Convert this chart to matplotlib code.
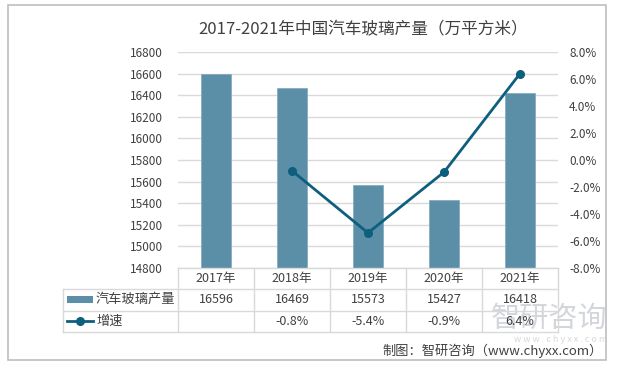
import matplotlib
matplotlib.use("Agg")
import matplotlib.pyplot as plt
from matplotlib.patches import Rectangle
from matplotlib.lines import Line2D
import numpy as np

plt.rcParams['font.family'] = ['Noto Sans CJK SC', 'DejaVu Sans']

years = ["2017年", "2018年", "2019年", "2020年", "2021年"]
output = [16596, 16469, 15573, 15427, 16418]
growth = [None, -0.8, -5.4, -0.9, 6.4]
growth_labels = ["", "-0.8%", "-5.4%", "-0.9%", "6.4%"]
left_ticks = list(range(14800, 16801, 200))
right_ticks = [-8, -6, -4, -2, 0, 2, 4, 6, 8]
series_names = ["汽车玻璃产量", "增速"]
title = "2017-2021年中国汽车玻璃产量（万平方米）"
source = "制图：智研咨询（www.chyxx.com）"

BAR_C = "#5b8fa7"
LINE_C = "#0e5f7e"
GRID_C = "#d9d9d9"
TXT_C = "#404040"

W, H = 622, 366
fig = plt.figure(figsize=(W / 100, H / 100), dpi=100)

def fx(px):
    return px / W

def fy(py):
    return 1 - py / H

ax_l, ax_r, ax_t, ax_b = 178, 558, 52, 268
ax = fig.add_axes([fx(ax_l), fy(ax_b), fx(ax_r - ax_l), (ax_b - ax_t) / H])
x = np.arange(len(years))
ax.bar(x, output, width=0.4, color=BAR_C, edgecolor="#7fa9bd", linewidth=0.5, zorder=3)
ax.set_xlim(-0.5, len(years) - 0.5)
ax.set_ylim(14800, 16800)
ax.set_yticks(left_ticks)
ax.set_yticklabels([str(t) for t in left_ticks])
ax.yaxis.grid(True, color=GRID_C, linewidth=1, zorder=0)
ax.set_xticks([])
for s in ax.spines.values():
    s.set_visible(False)
ax.tick_params(axis='y', length=0, pad=11, labelsize=8.5, labelcolor=TXT_C)

ax2 = ax.twinx()
gx = [xi for xi, g in zip(x, growth) if g is not None]
gy = [g for g in growth if g is not None]
ax2.plot(gx, gy, color=LINE_C, linewidth=2, marker='o', markersize=5.5, zorder=4)
ax2.set_ylim(-8, 8)
ax2.set_yticks(right_ticks)
ax2.set_yticklabels([f"{t:.1f}%" for t in right_ticks])
for s in ax2.spines.values():
    s.set_visible(False)
ax2.tick_params(axis='y', length=0, pad=8, labelsize=8.5, labelcolor=TXT_C)

# outer border
fig.add_artist(Rectangle((fx(8), fy(360)), fx(598), (360 - 5) / H, transform=fig.transFigure,
                         fill=False, edgecolor="#bfbfbf", linewidth=1.2))

# title
fig.text(fx(363), fy(30), title, ha='center', va='center', fontsize=12, color=TXT_C)

# watermark (drawn beneath table text)
fig.text(fx(607), fy(319), "智研咨询", ha='right', va='center', fontsize=21, color="#d3d6db",
         zorder=0)
fig.text(fx(607), fy(339), "w w w . c h y x x . c o m", ha='right', va='center', fontsize=6.5,
         color="#d5d8dd", zorder=0)

# data table
tbl_l = 63
rows = [268, 288.5, 310.5, 332]
col_w = (ax_r - ax_l) / len(years)
cols = [ax_l + i * col_w for i in range(len(years) + 1)]

def hline(y, x0, x1):
    fig.add_artist(Line2D([fx(x0), fx(x1)], [fy(y), fy(y)], transform=fig.transFigure,
                          color=GRID_C, linewidth=1))

def vline(xp, y0, y1):
    fig.add_artist(Line2D([fx(xp), fx(xp)], [fy(y0), fy(y1)], transform=fig.transFigure,
                          color=GRID_C, linewidth=1))

hline(rows[0], ax_l, ax_r)
for r in rows[1:]:
    hline(r, tbl_l, ax_r)
vline(tbl_l, rows[1], rows[3])
for c in cols:
    vline(c, rows[0], rows[3])

for i in range(len(years)):
    cx = (cols[i] + cols[i + 1]) / 2
    fig.text(fx(cx), fy((rows[0] + rows[1]) / 2), years[i], ha='center', va='center',
             fontsize=9, color=TXT_C)
    fig.text(fx(cx), fy((rows[1] + rows[2]) / 2), str(output[i]), ha='center', va='center',
             fontsize=9, color=TXT_C)
    fig.text(fx(cx), fy((rows[2] + rows[3]) / 2), growth_labels[i], ha='center', va='center',
             fontsize=9, color=TXT_C)

# legend keys in table
r1c = (rows[1] + rows[2]) / 2
r2c = (rows[2] + rows[3]) / 2
fig.add_artist(Rectangle((fx(67), fy(r1c + 3.5)), fx(26), 7 / H, transform=fig.transFigure,
                         facecolor=BAR_C, edgecolor='none'))
fig.text(fx(96), fy(r1c), series_names[0], ha='left', va='center', fontsize=9.5, color=TXT_C)
fig.add_artist(Line2D([fx(67), fx(93)], [fy(r2c), fy(r2c)], transform=fig.transFigure,
                      color=LINE_C, linewidth=2))
fig.add_artist(Line2D([fx(80)], [fy(r2c)], transform=fig.transFigure, color=LINE_C,
                      marker='o', markersize=5.5, linestyle='none'))
fig.text(fx(96), fy(r2c), series_names[1], ha='left', va='center', fontsize=9.5, color=TXT_C)

# source
fig.text(fx(603), fy(351), source, ha='right', va='center', fontsize=9.5, color=TXT_C)

fig.savefig("out.png", dpi=100)
